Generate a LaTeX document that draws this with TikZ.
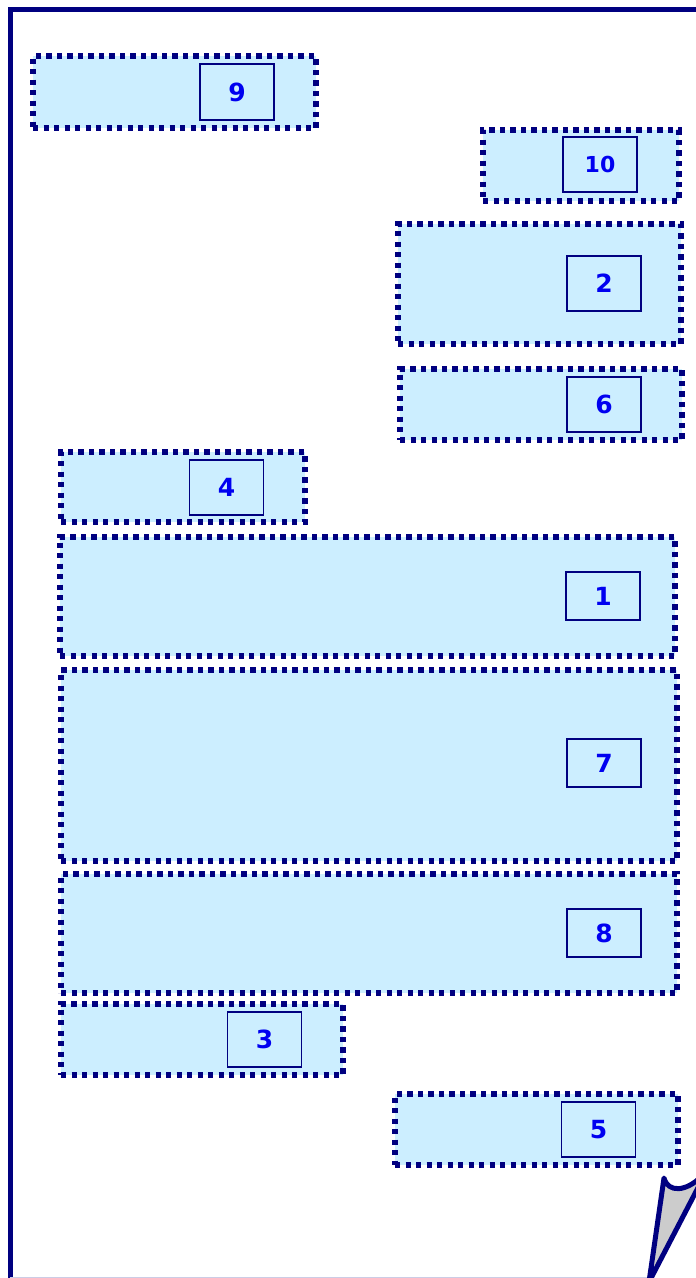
\documentclass[tikz,border=0pt]{standalone}
\usepackage{fontspec}
\newfontfamily\tagfont{DejaVu Sans}
\usetikzlibrary{positioning}
\definecolor{navy}{HTML}{000080}
\definecolor{paleblue}{HTML}{CCEEFF}
\definecolor{tagblue}{HTML}{0000F0}

\begin{document}
\begin{tikzpicture}[
        x=1pt, y=-1pt,
        region/.style={draw=navy, fill=paleblue, line width=5.4pt, dash pattern=on 5.4pt off 5.1pt, inner sep=0pt},
        tag/.style={draw=navy, line width=1.1pt, inner sep=0pt, minimum width=74pt, text=tagblue},
        page/.style={draw=navy, line width=5pt},
        curl/.style={draw=navy, fill=black!20, line width=5pt, line join=round}
    ]
        \useasboundingbox (0,0) rectangle (696,1278);
        \clip (0,0) rectangle (696,1278);

        % Page outline
        \coordinate (pgbl) at (10,1290);
        \coordinate (pgtl) at (10.5,9.5);
        \coordinate (pgtr) at (710,9.5);
        \draw[page] (pgbl -| pgtl) -- (pgtl) -- (pgtr);
        \draw[navy!20, line width=1pt] (10,1277.5) -- (650,1277.5);

        % Regions with their tags
        \foreach \n/\cx/\cy/\w/\h/\ix/\iy/\ih/\fs in {
            9/174.5/92/283/72/237/92/56/25,
            10/581/165.5/196/71/600/164.5/55/22,
            2/539.5/284/283/120/604/283.5/55/25,
            6/541/404.5/282/71/604/404.5/55/25,
            4/183/487/244/70/226.5/487.5/55/25,
            1/367.5/596.5/615/119/603/596/48/25,
            7/369/765.5/616/191/604/763/48/25,
            8/369/933.5/616/119/604/933/48/25,
            3/202/1039.5/282/71/264.5/1039.5/55/25,
            5/536.5/1129.5/283/71/598.5/1129.5/55/25}{
            \node[region, minimum width=\w pt, minimum height=\h pt] (reg\n) at (\cx,\cy) {};
            \node[tag, minimum height=\ih pt, font=\tagfont\bfseries\fontsize{\fs}{\fs}\selectfont] (tag\n) at (\ix,\iy) {\n};
        }

        % Page curl
        \coordinate (curltip) at (664,1178);
        \draw[curl] (649,1282) -- (curltip) .. controls (668,1193) and (686,1192) .. (702,1176) -- (702,1180) -- cycle;
    \end{tikzpicture}
\end{document}
